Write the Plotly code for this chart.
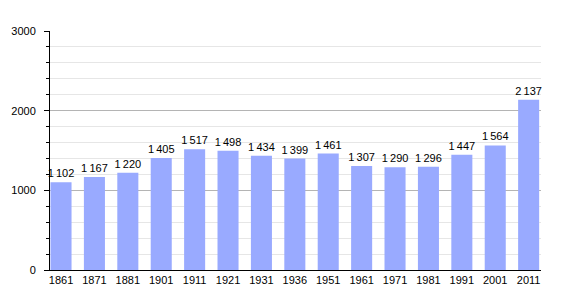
import plotly.graph_objects as go

years = ["1861", "1871", "1881", "1901", "1911", "1921", "1931", "1936",
         "1951", "1961", "1971", "1981", "1991", "2001", "2011"]
population = [1102, 1167, 1220, 1405, 1517, 1498, 1434, 1399,
              1461, 1307, 1290, 1296, 1447, 1564, 2137]
y_ticks = [0, 1000, 2000, 3000]

labels = [f"{v:,}".replace(",", "\u2009") for v in population]
xpos = list(range(len(years)))

fig = go.Figure(go.Bar(
    x=xpos, y=population, text=labels, textposition="outside",
    textfont=dict(family="Liberation Sans, Arial", size=11, color="#000"),
    constraintext="none", cliponaxis=False,
    marker=dict(color="#99aaff", line=dict(width=0)),
    hoverinfo="skip",
))

fig.update_layout(
    width=570, height=300,
    margin=dict(l=50, r=29, t=31, b=30),
    plot_bgcolor="white", paper_bgcolor="white",
    bargap=0.37, showlegend=False,
    font=dict(family="Liberation Sans, Arial", size=11, color="#000"),
)
fig.update_xaxes(
    range=[-0.33, 14.37], tickvals=xpos, ticktext=years,
    showgrid=False, showline=True, linecolor="#000", linewidth=1,
    ticks="", tickfont=dict(size=11, color="#000"), zeroline=False,
    fixedrange=True,
)
fig.update_yaxes(
    range=[0, 3000], tickvals=y_ticks, ticktext=[str(t) for t in y_ticks],
    showgrid=True, gridcolor="#b4b4b4", gridwidth=1,
    showline=True, linecolor="#000", linewidth=1,
    ticks="outside", ticklen=5, tickcolor="#000", ticklabelstandoff=6,
    minor=dict(dtick=200, showgrid=True, gridcolor="#e6e6e6",
               ticks="outside", ticklen=3, tickcolor="#000"),
    zeroline=False, tickfont=dict(size=11, color="#000"), fixedrange=True,
)

fig.write_html("out.html")
